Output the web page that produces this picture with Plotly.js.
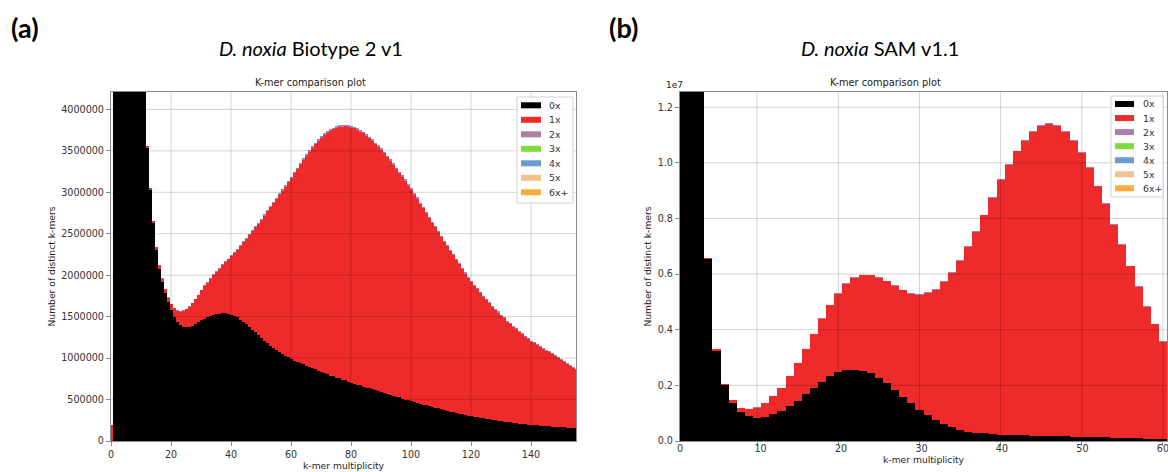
<!DOCTYPE html>
<html><head><meta charset="utf-8">
<script src="https://cdn.plot.ly/plotly-3.0.1.min.js"></script>
<style>html,body{margin:0;padding:0;background:#fff}#chart{width:1168px;height:472px}</style>
</head><body><div id="chart"></div>
<script>
// ---------- series meta ----------
const seriesLabels = ['0x', '1x', '2x', '3x', '4x', '5x', '6x+'];
const seriesColors = ['#000000', '#ee2a2a', '#a97fab', '#80dc3a', '#6c9bd2', '#f2c28e', '#ffaa3c'];

// ---------- ticks ----------
const leftXTicks = [0, 20, 40, 60, 80, 100, 120, 140];
const leftYTicks = [0, 500000, 1000000, 1500000, 2000000, 2500000, 3000000, 3500000, 4000000];
const rightXTicks = [0, 10, 20, 30, 40, 50, 60];
const rightYTicks = [0, 2000000, 4000000, 6000000, 8000000, 10000000, 12000000];
const rightYTickLabels = ['0.0', '0.2', '0.4', '0.6', '0.8', '1.0', '1.2'];

// ---------- panel (a): D. noxia Biotype 2 v1, multiplicity 0..155 ----------
const leftMultiplicity = Array.from({length: 156}, (_, i) => i);
const left0x = [
  0, 98000000, 31000000, 15200000, 10100000, 7800000, 6500000, 5700000, 5100000, 4750000,
  4500000, 4300000, 3540000, 3030000, 2630000, 2310000, 2080000, 1920000, 1790000, 1680000,
  1580000, 1500000, 1440000, 1400000, 1375000, 1370000, 1375000, 1390000, 1410000, 1430000,
  1455000, 1475000, 1495000, 1510000, 1520000, 1530000, 1535000, 1540000, 1540000, 1535000,
  1525000, 1510000, 1490000, 1465000, 1440000, 1410000, 1380000, 1345000, 1310000, 1275000,
  1240000, 1210000, 1180000, 1150000, 1125000, 1100000, 1075000, 1050000, 1030000, 1010000,
  990000, 970000, 955000, 940000, 925000, 910000, 895000, 880000, 865000, 850000,
  830000, 820000, 805000, 790000, 780000, 765000, 755000, 740000, 730000, 715000,
  700000, 690000, 680000, 670000, 655000, 645000, 635000, 625000, 610000, 600000,
  590000, 580000, 570000, 555000, 545000, 535000, 525000, 510000, 500000, 490000,
  480000, 470000, 460000, 450000, 440000, 430000, 420000, 410000, 400000, 395000,
  385000, 375000, 365000, 355000, 350000, 340000, 330000, 320000, 315000, 305000,
  300000, 290000, 285000, 280000, 275000, 270000, 260000, 255000, 250000, 245000,
  240000, 235000, 230000, 225000, 220000, 215000, 210000, 205000, 200000, 198000,
  195000, 192000, 190000, 187000, 183000, 180000, 177000, 174000, 171000, 168000,
  165000, 163000, 161000, 159000, 157000, 155000
];
const left1x = [
  190000, 10000, 10000, 10000, 10000, 10000, 10000, 10000, 10000, 10000,
  10000, 10000, 20000, 20000, 20000, 30000, 40000, 40000, 40000, 50000,
  70000, 100000, 130000, 160000, 195000, 220000, 245000, 270000, 300000, 330000,
  365000, 395000, 415000, 450000, 480000, 510000, 545000, 580000, 620000, 655000,
  705000, 760000, 820000, 885000, 960000, 1030000, 1110000, 1185000, 1270000, 1345000,
  1430000, 1510000, 1590000, 1670000, 1745000, 1820000, 1895000, 1970000, 2040000, 2110000,
  2180000, 2260000, 2325000, 2400000, 2465000, 2530000, 2595000, 2660000, 2715000, 2770000,
  2830000, 2870000, 2915000, 2950000, 2980000, 3010000, 3030000, 3050000, 3065000, 3075000,
  3080000, 3080000, 3070000, 3060000, 3055000, 3035000, 3015000, 2995000, 2970000, 2950000,
  2920000, 2890000, 2850000, 2825000, 2785000, 2745000, 2705000, 2680000, 2640000, 2590000,
  2550000, 2500000, 2460000, 2410000, 2370000, 2320000, 2270000, 2220000, 2180000, 2125000,
  2075000, 2025000, 1985000, 1935000, 1890000, 1840000, 1800000, 1750000, 1705000, 1665000,
  1620000, 1580000, 1545000, 1500000, 1465000, 1430000, 1400000, 1365000, 1330000, 1305000,
  1270000, 1245000, 1210000, 1185000, 1160000, 1135000, 1110000, 1085000, 1060000, 1032000,
  1005000, 988000, 970000, 953000, 927000, 910000, 893000, 876000, 859000, 832000,
  815000, 792000, 769000, 746000, 723000, 700000
];
const left2x = [
  1000, 1000, 1000, 1000, 1000, 1000, 1000, 1000, 1000, 1000,
  1000, 1000, 2000, 2000, 2000, 2000, 3000, 3000, 3000, 3000,
  4000, 4000, 5000, 5000, 5000, 6000, 6000, 6000, 7000, 7000,
  7000, 8000, 8000, 8000, 9000, 9000, 9000, 10000, 10000, 10000,
  11000, 11000, 11000, 12000, 12000, 12000, 13000, 13000, 13000, 14000,
  14000, 14000, 15000, 15000, 15000, 16000, 16000, 16000, 17000, 17000,
  17000, 18000, 18000, 18000, 19000, 19000, 19000, 20000, 20000, 20000,
  20000, 21000, 21000, 21000, 21000, 21000, 22000, 22000, 22000, 22000,
  22000, 22000, 22000, 21000, 21000, 21000, 21000, 21000, 20000, 20000,
  20000, 20000, 20000, 19000, 19000, 19000, 19000, 19000, 18000, 18000,
  18000, 18000, 18000, 17000, 17000, 17000, 17000, 17000, 16000, 16000,
  16000, 16000, 16000, 15000, 15000, 15000, 15000, 15000, 14000, 14000,
  14000, 14000, 14000, 14000, 13000, 13000, 13000, 13000, 13000, 13000,
  12000, 12000, 12000, 12000, 12000, 12000, 12000, 11000, 11000, 11000,
  11000, 11000, 11000, 11000, 11000, 10000, 10000, 10000, 10000, 10000,
  10000, 10000, 10000, 10000, 10000, 10000
];

// ---------- panel (b): D. noxia SAM v1.1, multiplicity 1..60 ----------
const rightMultiplicity = Array.from({length: 60}, (_, i) => i + 1);
const right0x = [
  90000000, 32000000, 15000000, 6550000, 3250000, 2000000, 1380000, 1050000, 900000, 840000,
  850000, 960000, 1080000, 1260000, 1450000, 1690000, 1890000, 2130000, 2350000, 2490000,
  2550000, 2570000, 2520000, 2430000, 2270000, 2070000, 1830000, 1590000, 1360000, 1130000,
  930000, 750000, 610000, 490000, 390000, 320000, 290000, 270000, 250000, 230000,
  220000, 210000, 200000, 195000, 190000, 180000, 175000, 170000, 160000, 155000,
  150000, 140000, 130000, 125000, 120000, 110000, 100000, 90000, 80000, 70000
];
const right1x = [
  30000, 30000, 30000, 30000, 50000, 50000, 100000, 130000, 250000, 360000,
  500000, 640000, 820000, 1070000, 1340000, 1610000, 1950000, 2260000, 2530000, 2810000,
  3110000, 3300000, 3440000, 3530000, 3600000, 3670000, 3750000, 3830000, 3940000, 4130000,
  4390000, 4690000, 5110000, 5550000, 6080000, 6660000, 7220000, 7840000, 8500000, 9140000,
  9690000, 10200000, 10600000, 10905000, 11120000, 11220000, 11135000, 10930000, 10610000, 10205000,
  9670000, 9010000, 8380000, 7655000, 6920000, 6170000, 5440000, 4730000, 4110000, 3500000
];
const right2x = [
  5000, 5000, 5000, 5000, 5000, 5000, 5000, 5000, 6000, 6000,
  7000, 8000, 9000, 10000, 11000, 12000, 13000, 14000, 15000, 16000,
  17000, 18000, 18000, 19000, 19000, 19000, 20000, 20000, 20000, 21000,
  21000, 22000, 23000, 24000, 25000, 26000, 27000, 28000, 29000, 30000,
  31000, 32000, 33000, 34000, 35000, 35000, 35000, 34000, 34000, 33000,
  32000, 31000, 30000, 29000, 28000, 27000, 26000, 25000, 24000, 23000
];

// ---------- helpers ----------
const W = 1168, H = 472;
const px = v => v / W;
const py = v => 1 - v / H;

function bar(x, y, idx, xa, ya) {
  // a hairline outline makes Plotly snap bar edges to whole pixels (no seams)
  return {type: 'bar', x: x, y: y, name: seriesLabels[idx], xaxis: xa, yaxis: ya,
          width: 1, marker: {color: seriesColors[idx], line: {width: 0.02, color: seriesColors[idx]}},
          showlegend: false, hoverinfo: 'x+y+name'};
}

const data = [
  bar(leftMultiplicity, left0x, 0, 'x', 'y'),
  bar(leftMultiplicity, left1x, 1, 'x', 'y'),
  bar(leftMultiplicity, left2x, 2, 'x', 'y'),
  bar(rightMultiplicity, right0x, 0, 'x2', 'y2'),
  bar(rightMultiplicity, right1x, 1, 'x2', 'y2'),
  bar(rightMultiplicity, right2x, 2, 'x2', 'y2'),
  // empty carrier so the tick-label axis of panel (b) is rendered
  {type: 'scatter', mode: 'markers', x: [], y: [], xaxis: 'x3', yaxis: 'y2', showlegend: false, hoverinfo: 'skip'}
];

const axisFont = {family: 'DejaVu Sans', size: 9.6, color: '#333'};
const titleFont = {family: 'DejaVu Sans', size: 9.2, color: '#222'};
const baseAxis = {
  showline: true, mirror: true, linecolor: '#8a8a8a', linewidth: 1.2,
  ticks: 'outside', ticklen: 4, tickcolor: '#8a8a8a', tickwidth: 1,
  showgrid: false, zeroline: false, tickfont: axisFont, fixedrange: true,
  ticklabeloverflow: 'allow'
};

const gridColor = 'rgba(0,0,0,0.17)';
const shapes = [];
function addGrid(xa, ya, xt, yt) {
  xt.forEach(v => { if (v !== 0) shapes.push({type: 'line', xref: xa, yref: ya + ' domain', x0: v, x1: v, y0: 0, y1: 1, line: {color: gridColor, width: 1}, layer: 'above'}); });
  yt.forEach(v => { if (v !== 0) shapes.push({type: 'line', xref: xa + ' domain', yref: ya, x0: 0, x1: 1, y0: v, y1: v, line: {color: gridColor, width: 1}, layer: 'above'}); });
}
addGrid('x', 'y', leftXTicks, leftYTicks);
addGrid('x2', 'y2', rightXTicks, rightYTicks);

const annotations = [];
// custom matplotlib-style legends
function addLegend(box, patchX0, patchX1, labelX, firstY, step) {
  shapes.push({type: 'rect', xref: 'paper', yref: 'paper', x0: px(box[0]), x1: px(box[1]), y0: py(box[3]), y1: py(box[2]),
               fillcolor: 'rgba(255,255,255,0.85)', line: {color: '#d0d0d0', width: 1}, layer: 'above'});
  seriesLabels.forEach((lab, i) => {
    const c = firstY + i * step;
    shapes.push({type: 'rect', xref: 'paper', yref: 'paper', x0: px(patchX0), x1: px(patchX1), y0: py(c + 3), y1: py(c - 3),
                 fillcolor: seriesColors[i], line: {width: 0}, layer: 'above'});
    annotations.push({xref: 'paper', yref: 'paper', x: px(labelX), y: py(c), xanchor: 'left', yanchor: 'middle',
                      text: lab, showarrow: false, font: {family: 'DejaVu Sans', size: 9.4, color: '#333'}});
  });
}
addLegend([517, 573, 97, 203], 521, 541, 547, 105.3, 14.5);
addLegend([1111, 1163, 96, 197], 1115, 1134, 1141, 104, 14.05);

const hdr = (x, y, text, size, bold) => ({xref: 'paper', yref: 'paper', x: px(x), y: py(y), xanchor: 'center', yanchor: 'middle',
  text: text, showarrow: false, font: {family: 'Lato', size: size, color: '#000', weight: bold ? 'bold' : 'normal'}});
annotations.push(hdr(25, 28, '(a)', 27, true));
annotations.push(hdr(623, 28, '(b)', 27, true));
annotations.push(hdr(311, 48, '<i>D. noxia</i> Biotype 2 v1', 20, false));
annotations.push(hdr(880, 48, '<i>D. noxia</i> SAM v1.1', 20, false));
const sub = (x, y, text, size) => ({xref: 'paper', yref: 'paper', x: px(x), y: py(y), xanchor: 'center', yanchor: 'middle',
  text: text, showarrow: false, font: {family: 'DejaVu Sans', size: size, color: '#222'}});
annotations.push(sub(310, 83, 'K-mer comparison plot', 9.8));
annotations.push(sub(885, 83, 'K-mer comparison plot', 9.8));
annotations.push(sub(674, 85, '1e7', 9));

const layout = {
  width: W, height: H, margin: {l: 0, r: 0, t: 0, b: 0},
  paper_bgcolor: '#fff', plot_bgcolor: '#fff',
  barmode: 'stack', bargap: 0, showlegend: false, hovermode: false,
  font: {family: 'DejaVu Sans', size: 10, color: '#333'},
  xaxis: Object.assign({}, baseAxis, {domain: [px(111), px(576)], anchor: 'y', range: [0, 155],
    tickvals: leftXTicks, ticktext: leftXTicks.map(String),
    title: {text: 'k-mer multiplicity', font: titleFont, standoff: 2}}),
  yaxis: Object.assign({}, baseAxis, {domain: [py(441), py(92)], anchor: 'x', range: [0, 4210000],
    tickvals: leftYTicks, ticktext: leftYTicks.map(String),
    title: {text: 'Number of distinct k-mers', font: titleFont, standoff: 4}}),
  // bars axis of panel (b): view starts half a bin before multiplicity 1
  xaxis2: Object.assign({}, baseAxis, {domain: [px(680), px(1167)], anchor: 'y2', range: [0.5, 60.5],
    tickvals: rightXTicks, showticklabels: false}),
  // label axis of panel (b): same scale, extended to show the 0 label
  xaxis3: Object.assign({}, baseAxis, {domain: [px(676), px(1167)], anchor: 'y2', overlaying: 'x2', range: [0, 60.5],
    showline: false, mirror: false, ticks: '', tickvals: rightXTicks, ticktext: rightXTicks.map(String),
    title: {text: 'k-mer multiplicity', font: titleFont, standoff: 2}}),
  yaxis2: Object.assign({}, baseAxis, {domain: [py(441), py(92)], anchor: 'x2', range: [0, 12545000],
    tickvals: rightYTicks, ticktext: rightYTickLabels,
    title: {text: 'Number of distinct k-mers', font: titleFont, standoff: 4}}),
  shapes: shapes, annotations: annotations
};

Plotly.newPlot('chart', data, layout, {displayModeBar: false});
</script>
</body></html>
